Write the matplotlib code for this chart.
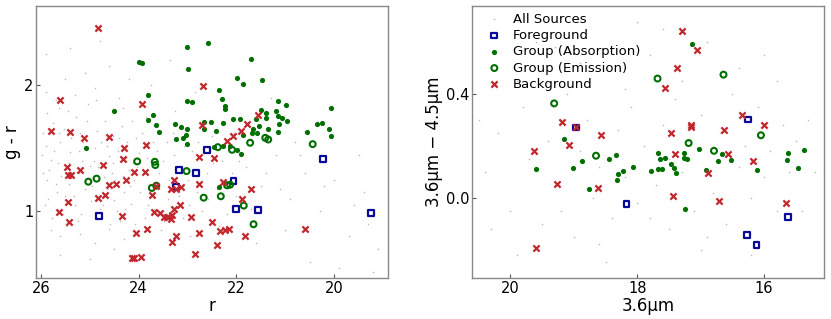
import matplotlib
matplotlib.use("Agg")
import matplotlib.pyplot as plt

# ---------------- Left panel data (r, g - r) ----------------
all_r = [25.9,25.8,25.7,25.6,25.5,25.4,25.3,25.2,25.1,25.0,24.9,24.8,24.7,24.6,24.5,24.4,24.3,24.2,24.1,24.0,
         25.95,25.85,25.75,25.65,25.55,25.45,25.35,25.25,25.15,25.05,24.95,24.85,24.75,24.65,24.55,24.45,24.35,24.25,24.15,24.05,
         25.9,25.7,25.5,25.3,25.1,24.9,24.6,24.4,
         25.8,25.6,25.2,24.9,24.6,24.3,
         25.95,25.88,25.62,25.42,25.22,24.92,24.72,24.52,24.32,24.12,
         23.9,23.8,23.7,23.6,23.5,23.4,23.3,23.2,23.1,23.0,22.9,22.8,22.7,22.6,22.5,22.4,22.3,22.2,22.1,22.0,
         23.85,23.55,23.25,22.95,22.65,22.35,22.05,23.75,23.35,22.85,
         21.8,21.5,21.2,20.9,20.6,20.3,20.0,19.7,19.4,19.1,21.6,21.0,20.5,19.9,19.2,21.3,20.8,19.5,
         25.98,25.92,25.87,25.83,25.78,25.73,25.68,25.63,25.58,25.53,25.48,25.43,25.38,25.33,25.28,25.23,
         25.18,25.13,25.08,25.03,24.98,24.93,24.88,24.83,24.78,24.73,24.68,24.63,24.58,24.53,24.48,24.43,
         24.38,24.33,24.28,24.23,24.18,24.13,24.08,24.03,23.98,23.93,23.88,23.83,23.78,23.68,23.63,23.58,
         23.48,23.43,23.38,23.28,23.18,23.08,22.98,22.88,22.78,22.58,22.48,22.28,22.18,21.95,21.7,21.4,
         21.1,20.7,20.2,19.6,19.3,25.9,25.4,24.8,24.2,25.6,25.0,24.5]
all_gr = [1.52,1.41,1.22,1.55,1.12,1.47,1.05,1.62,1.18,1.36,1.50,1.02,1.27,1.44,1.09,1.58,1.15,1.33,1.25,1.46,
          1.30,1.10,1.70,1.38,0.98,1.80,1.28,0.92,1.40,1.72,1.20,1.64,0.95,1.52,1.30,1.00,1.68,1.42,1.06,1.58,
          1.95,1.88,2.05,1.92,2.10,1.98,2.15,1.90,
          0.85,0.80,0.82,0.75,0.86,0.78,
          1.62,1.25,1.62,1.22,1.48,1.40,1.12,1.38,1.28,1.38,
          1.30,1.05,1.55,1.20,1.40,1.10,1.62,1.35,0.95,1.25,1.48,1.15,1.00,1.30,1.60,1.18,1.40,0.98,1.30,1.12,
          1.75,0.85,1.80,0.80,1.72,0.88,1.62,2.00,2.20,1.95,
          1.35,1.20,1.45,1.10,1.30,1.00,1.25,0.80,1.15,0.70,0.75,0.85,0.60,0.55,0.52,1.90,1.55,1.45,
          1.45,1.05,1.78,1.33,0.95,1.48,1.15,1.82,1.28,1.65,0.88,1.38,1.58,1.12,1.75,1.30,
          0.98,1.55,1.25,1.85,1.08,1.28,1.88,1.35,1.55,1.05,1.72,1.18,0.90,1.60,1.25,1.48,
          0.92,1.82,1.02,1.55,1.20,1.72,0.90,1.35,1.15,1.62,0.95,1.42,1.22,1.02,1.48,1.30,
          0.92,1.55,1.25,1.45,1.12,1.52,1.05,1.32,1.55,1.10,1.38,1.22,1.50,1.40,1.02,1.30,
          1.18,1.45,1.20,1.05,0.90,2.25,2.30,2.35,2.05,0.65,0.62,0.70]

fg_r = [24.81,23.17,22.83,22.60,23.23,22.06,22.01,21.56,20.23,19.24]
fg_gr = [0.960,1.325,1.303,1.488,1.195,1.243,1.021,1.011,1.417,0.989]

abs_r = [23.01,22.59,21.70,22.99,24.00,23.94,21.99,21.48,21.86,22.36,23.81,23.01,22.90,22.29,22.24,22.23,
         21.16,20.99,20.07,24.51,23.71,23.80,23.65,23.59,23.26,23.13,23.01,23.24,23.10,23.03,23.01,22.66,
         22.67,22.51,22.41,22.27,22.07,21.92,21.86,21.67,21.69,21.61,21.50,21.40,21.40,21.54,21.58,21.36,
         21.19,21.14,21.07,20.97,21.12,21.16,20.56,20.36,20.24,20.10,20.06,25.07,22.45,22.28,21.99,21.90,
         22.36,22.14]
abs_gr = [2.301,2.335,2.211,2.132,2.185,2.174,2.058,2.040,2.008,1.966,1.923,1.873,1.871,1.889,1.834,1.813,
          1.876,1.847,1.823,1.794,1.768,1.726,1.683,1.631,1.694,1.668,1.657,1.575,1.578,1.607,1.538,1.707,
          1.652,1.707,1.636,1.704,1.734,1.734,1.602,1.652,1.623,1.731,1.802,1.784,1.739,1.681,1.623,1.654,
          1.794,1.755,1.741,1.718,1.689,1.628,1.628,1.694,1.704,1.657,1.596,1.501,1.512,1.522,1.488,1.451,
          1.195,1.520]

em_r = [25.03,24.86,24.03,23.67,23.66,23.64,23.73,23.02,22.67,22.32,22.38,22.09,22.19,22.13,21.85,21.65,
        21.72,21.41,21.35,20.44]
em_gr = [1.235,1.259,1.396,1.393,1.367,1.203,1.185,1.319,1.108,1.119,1.509,1.488,1.206,1.211,1.045,0.897,
         1.544,1.583,1.570,1.533]

bg_r = [24.84,25.61,25.79,25.41,25.11,24.61,23.94,23.85,24.29,24.31,25.47,24.73,25.19,25.44,25.39,24.09,
        23.88,24.26,24.61,24.46,24.84,24.68,25.45,25.62,25.42,24.35,23.73,23.65,23.69,23.57,23.48,23.41,
        23.33,23.31,23.27,23.16,23.33,23.27,23.24,23.14,23.23,23.32,23.83,24.05,24.13,24.09,23.96,22.93,
        22.77,22.84,22.50,22.40,22.33,22.24,22.16,21.82,21.89,21.71,22.27,22.77,22.77,22.46,22.19,22.06,
        21.90,21.78,21.55,22.71,22.69,20.60]
bg_gr = [2.454,1.881,1.636,1.628,1.583,1.591,1.855,1.528,1.499,1.417,1.354,1.364,1.325,1.285,1.285,1.314,
         1.309,1.248,1.208,1.214,1.106,1.127,1.074,0.995,0.918,0.963,1.129,1.203,0.997,0.989,0.958,0.958,
         0.937,0.971,1.016,1.047,1.174,1.248,1.177,1.195,0.800,0.755,0.858,0.831,0.625,0.625,0.636,0.958,
         0.826,0.657,0.916,0.731,0.842,0.852,0.858,0.805,1.095,1.177,1.232,1.214,1.433,1.422,1.559,1.596,
         1.639,1.694,1.768,1.686,1.992,0.863]

# ---------------- Right panel data (3.6um, 3.6um - 4.5um) ----------------
all_m36 = [20.4,20.2,20.0,19.8,19.7,19.5,19.4,19.3,19.1,19.0,18.9,18.8,18.7,18.6,18.5,18.4,18.3,18.2,18.1,18.0,
           17.9,17.8,17.7,17.6,17.5,17.4,17.3,17.2,17.1,17.0,16.9,16.8,16.7,16.6,16.5,16.4,16.3,16.2,16.1,16.0,
           15.9,15.8,15.7,15.6,15.5,15.3,19.9,18.5,17.0,16.0,19.6,18.0,
           20.5,20.3,19.9,19.2,18.9,18.6,18.2,17.8,17.5,17.3,16.9,16.4,16.2,15.8,15.4,15.2,19.3,17.6]
all_col = [0.10,0.25,-0.05,0.35,0.15,-0.10,0.22,0.05,0.40,-0.15,0.18,0.30,0.00,0.12,0.50,-0.08,0.26,0.08,0.35,-0.02,
           0.20,0.55,0.05,0.28,-0.12,0.38,0.10,0.22,-0.05,0.32,0.60,0.02,0.25,-0.10,0.40,0.12,0.20,0.00,0.35,0.08,
           0.18,-0.05,0.28,0.10,0.22,0.30,-0.22,-0.25,-0.20,0.55,0.60,0.68,
           0.30,-0.12,0.45,-0.05,0.52,-0.18,0.42,-0.08,0.15,0.45,-0.15,0.50,-0.22,0.45,-0.05,0.10,0.58,0.65]

fg_m36 = [18.96,18.17,16.26,16.27,16.12,15.63]
fg_col = [0.271,-0.024,0.302,-0.145,-0.181,-0.076]

abs_m36 = [17.14,19.15,19.59,19.01,18.87,18.76,18.44,18.34,18.30,18.32,18.23,18.06,17.79,17.68,17.64,17.56,
           17.67,17.61,17.46,17.42,17.39,17.27,17.26,17.22,17.02,17.25,16.92,16.73,16.66,16.52,16.11,15.63,
           15.64,15.47,15.37]
abs_col = [0.593,0.225,0.111,0.114,0.143,0.032,0.148,0.163,0.091,0.068,0.104,0.118,0.102,0.172,0.150,0.153,
           0.109,0.112,0.132,0.116,0.094,0.174,0.153,0.148,0.189,-0.042,0.108,0.141,0.170,0.145,0.108,0.174,
           0.147,0.116,0.184]

em_m36 = [19.31,18.65,17.68,16.64,17.19,16.79,16.05]
em_col = [0.364,0.162,0.460,0.475,0.211,0.181,0.241]

bg_m36 = [17.29,17.06,17.37,17.57,19.19,18.96,19.07,18.57,19.62,19.27,18.62,19.59,17.47,17.41,17.16,17.16,
          17.43,16.88,16.71,16.63,16.57,16.35,16.18,16.00,15.65]
bg_col = [0.643,0.572,0.502,0.424,0.291,0.271,0.202,0.243,0.181,0.054,0.037,-0.195,0.250,0.167,0.282,0.273,
          0.006,0.096,-0.012,0.262,0.167,0.318,0.141,0.280,-0.019]

C_FG = "#0a0a9a"
C_GR = "#006f00"
C_BG = "#c1272d"
C_ALL = "#909090"

fig = plt.figure(figsize=(8.31, 3.19), dpi=100)
ax1 = fig.add_axes([0.0433, 0.1285, 0.4236, 0.8527])
ax2 = fig.add_axes([0.5684, 0.1285, 0.4236, 0.8527])


def draw(ax, ax_, ay_, fx, fy, gx, gy, ex, ey, bx, by):
    ax.scatter(ax_, ay_, s=1.3, c=C_ALL, alpha=0.6, linewidths=0, label="All Sources")
    ax.scatter(fx, fy, s=18, marker="s", facecolors="none", edgecolors=C_FG, linewidths=1.6, label="Foreground")
    ax.scatter(gx, gy, s=14, marker="o", c=C_GR, linewidths=0, label="Group (Absorption)")
    ax.scatter(ex, ey, s=18, marker="o", facecolors="none", edgecolors=C_GR, linewidths=1.5, label="Group (Emission)")
    ax.scatter(bx, by, s=20, marker="x", c=C_BG, linewidths=1.6, label="Background")
    for sp in ax.spines.values():
        sp.set_color("#888888")
        sp.set_linewidth(1.0)
    ax.tick_params(direction="in", length=3, labelsize=10.5, color="#555555", pad=2)


draw(ax1, all_r, all_gr, fg_r, fg_gr, abs_r, abs_gr, em_r, em_gr, bg_r, bg_gr)
ax1.set_xlim(26.1, 18.9)
ax1.set_ylim(0.47, 2.63)
ax1.set_xticks([26, 24, 22, 20])
ax1.set_yticks([1, 2])
ax1.set_xlabel("r", fontsize=12, labelpad=1)
ax1.set_ylabel("g - r", fontsize=12, labelpad=2)

draw(ax2, all_m36, all_col, fg_m36, fg_col, abs_m36, abs_col, em_m36, em_col, bg_m36, bg_col)
ax2.set_xlim(20.6, 15.05)
ax2.set_ylim(-0.31, 0.74)
ax2.set_xticks([20, 18, 16])
ax2.set_yticks([0.0, 0.4])
ax2.set_xlabel("3.6μm", fontsize=12, labelpad=1)
ax2.set_ylabel("3.6μm − 4.5μm", fontsize=12, labelpad=2)
ax2.legend(loc="upper left", bbox_to_anchor=(0.01, 0.995), frameon=False, fontsize=9.5,
           handletextpad=0.4, borderaxespad=0.0, labelspacing=0.25, scatterpoints=1)

fig.savefig("out.png", dpi=100)
